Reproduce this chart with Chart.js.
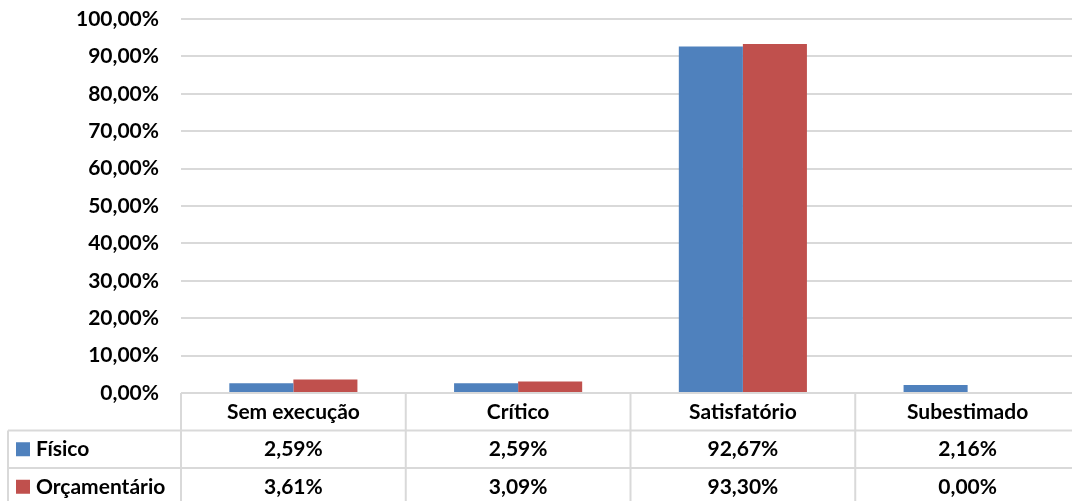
<!DOCTYPE html>
<html>
<head>
<meta charset="utf-8">
<script src="https://cdn.jsdelivr.net/npm/chart.js@4"></script>
<style>
  html, body { margin: 0; padding: 0; background: #fff; overflow: hidden; }
  #wrap { width: 1080px; height: 501px; }
</style>
</head>
<body>
<div id="wrap"><canvas id="chart"></canvas></div>
<script>
const categories = ['Sem execução', 'Crítico', 'Satisfatório', 'Subestimado'];
const fisico = [2.59, 2.59, 92.67, 2.16];
const orcamentario = [3.61, 3.09, 93.30, 0.00];
const seriesNames = ['Físico', 'Orçamentário'];
const seriesColors = ['#4f81bd', '#c0504d'];

const FONT = 'Lato, "DejaVu Sans", sans-serif';
const gridColor = '#d9d9d9';

function pct(v) {
    return v.toFixed(2).replace('.', ',') + '%';
}

// draws the Excel style data table under the plot
const dataTable = {
    id: 'dataTable',
    afterDraw(chart) {
        const ctx = chart.ctx;
        const x = chart.scales.x;
        const area = chart.chartArea;
        const top = area.bottom;
        const rowH = 37.5;
        const bottom = top + rowH * 3;
        const leftEdge = 8;
        const rows = [fisico, orcamentario];

        ctx.save();
        ctx.strokeStyle = gridColor;
        ctx.lineWidth = 2;
        ctx.beginPath();
        // horizontal lines
        ctx.moveTo(area.left, top); ctx.lineTo(area.right, top);
        for (let r = 1; r <= 2; r++) {
            ctx.moveTo(leftEdge, top + rowH * r);
            ctx.lineTo(area.right, top + rowH * r);
        }
        // vertical lines
        ctx.moveTo(leftEdge, top + rowH); ctx.lineTo(leftEdge, bottom);
        ctx.moveTo(area.left, top); ctx.lineTo(area.left, bottom);
        for (let i = 1; i < categories.length; i++) {
            const b = (x.getPixelForValue(i - 1) + x.getPixelForValue(i)) / 2;
            ctx.moveTo(b, top); ctx.lineTo(b, bottom);
        }
        ctx.moveTo(area.right, top); ctx.lineTo(area.right, bottom);
        ctx.stroke();

        ctx.fillStyle = '#000';
        ctx.font = 'bold 21px ' + FONT;
        ctx.textBaseline = 'middle';
        ctx.textAlign = 'center';
        categories.forEach((c, i) => {
            ctx.fillText(c, x.getPixelForValue(i), top + rowH / 2);
        });
        rows.forEach((vals, r) => {
            const cy = top + rowH * (r + 1.5);
            ctx.textAlign = 'center';
            ctx.fillStyle = '#000';
            vals.forEach((v, i) => {
                ctx.fillText(pct(v), x.getPixelForValue(i), cy);
            });
            ctx.fillStyle = seriesColors[r];
            ctx.fillRect(16, cy - 7, 14, 14);
            ctx.fillStyle = '#000';
            ctx.textAlign = 'left';
            ctx.fillText(seriesNames[r], 36, cy);
        });
        ctx.restore();
    }
};

const ctx = document.getElementById('chart').getContext('2d');
new Chart(ctx, {
    type: 'bar',
    data: {
        labels: categories,
        datasets: [
            {
                label: seriesNames[0],
                data: fisico,
                backgroundColor: seriesColors[0],
                categoryPercentage: 0.57,
                barPercentage: 1
            },
            {
                label: seriesNames[1],
                data: orcamentario,
                backgroundColor: seriesColors[1],
                categoryPercentage: 0.57,
                barPercentage: 1
            }
        ]
    },
    options: {
        responsive: true,
        maintainAspectRatio: false,
        animation: false,
        layout: { padding: { top: 19, bottom: 108, left: 0, right: 0 } },
        plugins: {
            legend: { display: false },
            tooltip: { enabled: false }
        },
        scales: {
            x: { display: false },
            y: {
                min: 0,
                max: 100,
                ticks: {
                    stepSize: 10,
                    padding: 22,
                    color: '#000',
                    font: { family: FONT, size: 21, weight: 'bold' },
                    callback: (v) => pct(v)
                },
                grid: { color: gridColor, lineWidth: 2, drawTicks: false },
                border: { display: false },
                afterFit(scale) {
                    scale.width = 181;
                    scale.paddingTop = 0;
                    scale.paddingBottom = 0;
                }
            }
        }
    },
    plugins: [dataTable]
});
</script>
</body>
</html>
